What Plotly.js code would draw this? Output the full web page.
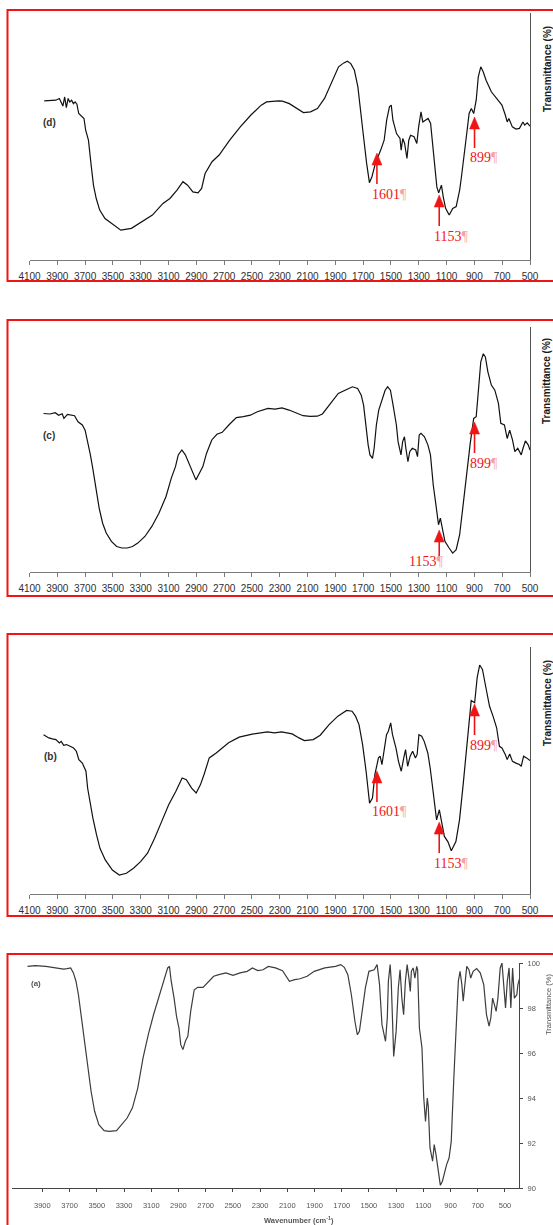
<!DOCTYPE html>
<html>
<head>
<meta charset="utf-8">
<script src="https://cdn.plot.ly/plotly-3.0.1.min.js"></script>
<style>
  html, body { margin: 0; padding: 0; background: #fff; }
  #chart { width: 553px; height: 1225px; }
</style>
</head>
<body>
<svg width="0" height="0" style="position:absolute">
  <filter id="soft"><feGaussianBlur stdDeviation="0.5"/></filter>
</svg>
<div id="chart"></div>
<script>
// ---- FTIR spectra: wavenumber (cm-1) and transmittance ----
// (d)
const WN_D = [3994,3911,3885,3860,3847,3835,3822,3810,3797,3784,3772,3759,3746,3726,3708,3696,3676,3658,3640,3620,3595,3557,3494,3443,3367,3292,3216,3140,3090,3039,2996,2963,2925,2888,2862,2837,2787,2736,2660,2584,2509,2433,2395,2307,2281,2231,2180,2130,2079,2029,1978,1928,1877,1839,1814,1789,1763,1738,1726,1700,1675,1655,1637,1612,1574,1549,1531,1511,1498,1486,1460,1435,1427,1415,1402,1385,1372,1359,1334,1314,1301,1284,1271,1251,1233,1215,1195,1170,1157,1145,1137,1124,1107,1081,1056,1031,1006,993,973,955,938,922,905,887,872,854,836,816,778,740,702,677,664,652,627,601,576,551,538,520,500];
const T_D = [64.4,64.7,65.4,62.3,66.0,61.7,65.4,64.0,64.7,63.3,64.0,63.1,59.3,58.2,57.3,52.6,48.5,39.1,30.3,24.9,20.2,16.8,14.2,12.1,12.8,15.5,18.2,22.9,24.9,28.3,31.7,30.3,27.6,27.2,29.0,35.0,39.8,42.5,48.5,53.9,58.6,62.7,64.0,64.4,64.3,63.3,61.3,59.7,60.0,61.3,65.4,72.1,78.2,79.8,80.5,79.5,76.8,70.1,64.7,51.2,39.1,31.3,33.7,39.1,44.5,48.5,56.6,62.0,62.7,56.6,51.2,49.2,44.5,49.2,47.2,41.1,48.5,50.5,49.9,47.2,53.9,60.0,55.9,56.6,57.3,55.3,44.5,29.6,27.2,29.6,30.3,25.6,20.9,18.2,20.9,21.6,28.3,33.7,41.8,51.2,59.3,61.3,59.3,64.7,74.1,78.2,76.1,72.8,68.1,65.4,62.7,58.6,55.9,57.3,53.9,53.0,53.3,55.9,54.6,55.5,54.2];
const PEAKS_D = [1601, 1153, 899];

// (c)
const WN_C = [3999,3953,3915,3890,3865,3852,3827,3801,3776,3751,3720,3700,3680,3662,3645,3624,3599,3574,3548,3511,3473,3435,3397,3359,3321,3270,3220,3169,3118,3080,3050,3030,3004,2979,2941,2903,2878,2853,2827,2789,2752,2714,2663,2612,2562,2511,2461,2385,2334,2284,2233,2182,2132,2081,2030,1993,1942,1879,1815,1777,1740,1714,1697,1681,1664,1651,1633,1621,1605,1588,1562,1542,1524,1504,1487,1461,1449,1428,1416,1403,1393,1378,1365,1347,1322,1309,1297,1284,1259,1234,1216,1196,1175,1158,1145,1132,1112,1082,1056,1031,1006,981,955,930,905,887,872,854,836,821,803,778,753,727,710,684,664,646,626,609,588,563,550,533,512,500];
const T_C = [64.7,64.5,65.0,64.0,64.6,62.7,64.3,64.0,63.8,61.3,60.0,57.9,53.2,47.8,42.3,34.2,26.1,19.9,15.9,12.5,10.4,9.8,9.8,10.4,11.8,14.5,18.6,24.0,30.8,38.3,43.0,47.8,49.8,47.8,42.3,37.6,40.3,43.0,48.4,53.9,56.2,57.0,60.2,63.0,63.4,64.0,65.4,66.8,66.5,67.0,66.1,65.1,63.8,63.5,63.6,64.5,68.1,72.9,74.6,75.6,74.9,72.2,68.1,60.0,51.8,47.8,46.4,50.5,60.0,66.1,70.8,74.2,75.6,74.2,68.8,60.0,53.2,47.8,53.2,55.2,50.5,45.0,49.1,50.5,49.8,47.1,55.9,56.6,55.2,51.8,47.8,35.5,26.7,19.3,22.0,17.9,12.5,9.8,7.7,9.1,15.2,27.4,41.0,52.5,62.7,63.4,73.5,85.8,89.1,87.8,81.7,76.3,74.2,68.8,60.7,60.0,54.5,57.9,53.9,49.1,50.5,47.8,50.5,53.5,51.8,49.8];
const PEAKS_C = [1153, 899];

// (b)
const WN_B = [3999,3961,3935,3910,3885,3872,3854,3834,3808,3783,3763,3745,3720,3694,3682,3661,3644,3618,3593,3555,3504,3454,3403,3352,3301,3251,3200,3149,3099,3048,3002,2972,2934,2901,2871,2845,2807,2757,2718,2668,2592,2490,2389,2338,2287,2211,2161,2123,2059,2009,1945,1882,1819,1780,1755,1730,1717,1704,1679,1654,1633,1616,1590,1578,1565,1552,1532,1519,1502,1489,1464,1446,1426,1408,1395,1380,1362,1344,1324,1312,1299,1279,1261,1235,1218,1197,1172,1152,1134,1116,1091,1066,1033,1007,981,956,923,898,880,862,842,817,791,766,740,720,702,677,664,646,626,601,576,563,546,525,500];
const T_B = [64.5,63.2,62.8,62.5,61.2,61.8,60.2,60.5,59.8,59.1,57.8,54.4,53.0,49.7,42.9,36.1,30.7,24.0,18.5,13.8,9.7,7.7,8.4,10.4,13.1,16.5,22.6,29.4,36.1,41.5,47.0,46.3,42.9,40.9,44.2,48.3,55.1,57.1,58.9,61.2,63.5,64.8,65.6,65.2,65.6,64.8,63.2,62.1,62.5,64.3,68.6,72.0,74.3,74.0,72.0,68.6,64.5,60.5,49.7,36.8,38.8,48.3,55.1,55.8,52.4,57.1,64.5,65.9,69.3,64.5,59.1,53.7,49.7,55.1,58.5,51.7,55.8,57.8,55.1,56.4,64.5,63.9,61.8,57.1,51.0,41.5,30.0,34.1,29.4,23.3,21.2,17.5,21.2,30.0,44.2,59.1,78.3,77.4,87.6,92.7,90.9,83.5,76.0,72.0,67.3,59.8,59.1,56.4,54.4,56.7,53.7,53.0,52.4,51.7,55.8,55.1,54.0];
const PEAKS_B = [1601, 1153, 899];

// (a)
const WN_A = [4009,3952,3874,3822,3770,3744,3718,3692,3672,3653,3635,3615,3589,3563,3542,3516,3485,3446,3407,3355,3316,3277,3238,3199,3160,3122,3083,3044,3005,2979,2966,2953,2932,2914,2896,2883,2867,2849,2831,2810,2784,2758,2719,2680,2641,2603,2551,2499,2447,2395,2356,2317,2278,2239,2187,2135,2109,2084,2045,2006,1954,1902,1824,1746,1707,1681,1655,1629,1603,1585,1570,1552,1526,1500,1461,1440,1422,1404,1388,1378,1365,1357,1344,1336,1318,1300,1284,1271,1258,1245,1232,1219,1206,1196,1188,1175,1162,1149,1142,1129,1110,1097,1084,1071,1064,1051,1032,1020,1007,988,975,960,942,929,911,895,877,859,843,830,817,807,791,781,765,752,734,708,682,656,636,617,604,591,578,565,552,535,522,509,496,483,470,457,444,431,413,405,392];
const T_A = [99.85,99.88,99.85,99.81,99.78,99.73,99.75,99.78,99.56,99.19,98.59,97.70,96.52,95.19,94.30,93.41,92.81,92.55,92.52,92.55,92.81,93.11,93.56,94.44,95.78,96.81,97.70,98.44,99.19,99.78,99.85,99.19,98.44,97.63,97.11,96.37,96.15,96.52,96.74,97.85,98.81,98.92,98.92,99.19,99.41,99.48,99.56,99.45,99.56,99.63,99.78,99.66,99.70,99.85,99.78,99.66,99.41,99.19,99.26,99.30,99.41,99.63,99.78,99.85,99.93,99.81,99.48,98.59,97.41,96.81,96.96,97.85,98.89,99.63,99.70,99.93,99.04,97.26,96.81,96.52,97.56,99.19,99.93,99.19,95.85,96.96,98.89,99.70,98.44,97.70,99.19,99.93,99.33,98.74,99.63,99.78,99.33,99.85,99.70,97.11,96.22,94.00,92.96,94.00,93.63,91.78,91.19,91.93,91.48,90.59,90.12,90.30,90.74,91.04,91.33,92.07,94.74,97.26,99.19,99.63,99.04,98.30,99.33,99.85,99.70,99.33,99.63,99.75,99.56,99.04,97.70,97.19,97.56,98.44,98.15,97.85,98.44,99.78,100.0,99.04,98.00,99.19,99.78,98.00,99.78,98.44,98.59,99.04,99.33];

// Axis ticks
const X_TICKS = [4100,3900,3700,3500,3300,3100,2900,2700,2500,2300,2100,1900,1700,1500,1300,1100,900,700,500];
const X_TICKS_A = [3900,3700,3500,3300,3100,2900,2700,2500,2300,2100,1900,1700,1500,1300,1100,900,700,500];
const Y_TICKS_A = [90,92,94,96,98,100];
const PANEL_LABELS = ['(d)', '(c)', '(b)', '(a)'];
const Y_TITLE = 'Transmittance (%)';
const X_TITLE = 'Wavenumber (cm<sup>-1</sup>)';

// ---- page geometry (pixels on a 553 x 1225 canvas) ----
const W = 553, H = 1225;
const px = v => v / W;
const py = v => 1 - v / H;

const SANS = 'Liberation Sans, Arial, sans-serif';
const SERIF = 'Liberation Serif, Times New Roman, serif';
const RED = '#f01515';
const PILCROW = '#f4a2a2';

// Upper three panels share one style
const panels = [
  { wn: WN_D, t: T_D, peaks: PEAKS_D, label: PANEL_LABELS[0], top: 13, base: 260, box: [10, 281], labelAt: [49, 123], titleAt: 69,
    arrows: { 1601: { tip: 43.3, side: 'left' }, 1153: { tip: 26.3, side: 'left' }, 899: { tip: 57.9, side: 'left' } } },
  { wn: WN_C, t: T_C, peaks: PEAKS_C, label: PANEL_LABELS[1], top: 327, base: 572, box: [320, 596], labelAt: [49, 435], titleAt: 381,
    arrows: { 1153: { tip: 17.1, side: 'right', drop: 31 }, 899: { tip: 61.2, side: 'left' } } },
  { wn: WN_B, t: T_B, peaks: PEAKS_B, label: PANEL_LABELS[2], top: 647, base: 894, box: [634, 916], labelAt: [50, 756], titleAt: 703,
    arrows: { 1601: { tip: 49.8, side: 'left' }, 1153: { tip: 29.1, side: 'left' }, 899: { tip: 76.9, side: 'left' } } }
];

// arrow geometry in screen pixels, measured up from the arrow tip
const ARROW = { len: 31, headLen: 12, headHalf: 5, width: 1.6 };

const traces = [];
const layout = {
  width: W, height: H,
  margin: { l: 0, r: 0, t: 0, b: 0 },
  paper_bgcolor: '#ffffff',
  plot_bgcolor: 'rgba(0,0,0,0)',
  showlegend: false,
  shapes: [],
  annotations: []
};

const X_DOMAIN = [px(29.5), px(530)];

panels.forEach((p, i) => {
  const n = i + 1;
  const xa = 'x' + (n === 1 ? '' : n), ya = 'y' + (n === 1 ? '' : n);
  const xk = 'xaxis' + (n === 1 ? '' : n), yk = 'yaxis' + (n === 1 ? '' : n);

  traces.push({
    x: p.wn, y: p.t, xaxis: xa, yaxis: ya,
    type: 'scatter', mode: 'lines',
    line: { color: '#111111', width: 1.2 },
    hoverinfo: 'skip'
  });

  layout[xk] = {
    domain: X_DOMAIN, range: [4100, 500], anchor: ya,
    tickmode: 'array', tickvals: X_TICKS,
    ticks: 'outside', ticklen: 4, tickwidth: 1, tickcolor: '#7a7a7a',
    ticklabelstandoff: 3,
    showline: true, linecolor: '#7a7a7a', linewidth: 1,
    tickfont: { family: SANS, size: 10, color: '#2e2e2e' },
    showgrid: false, zeroline: false, fixedrange: true
  };
  layout[yk] = {
    domain: [py(p.base), py(p.top)], range: [0, 100], anchor: xa,
    side: 'right', showline: true, linecolor: '#555555', linewidth: 1,
    ticks: '', showticklabels: false, showgrid: false, zeroline: false, fixedrange: true
  };

  // frame around the panel
  layout.shapes.push({
    type: 'rect', xref: 'paper', yref: 'paper',
    x0: px(7.5), x1: px(W + 10), y0: py(p.box[1]), y1: py(p.box[0]),
    line: { color: RED, width: 2 }, fillcolor: 'rgba(0,0,0,0)'
  });

  // panel letter
  layout.annotations.push({
    xref: 'paper', yref: 'paper', x: px(p.labelAt[0]), y: py(p.labelAt[1]),
    xanchor: 'center', yanchor: 'middle',
    text: '<b>' + p.label + '</b>', showarrow: false,
    font: { family: SANS, size: 10, color: '#333333' }
  });

  // vertical axis name at the right edge
  layout.annotations.push({
    xref: 'paper', yref: 'paper', x: px(547), y: py(p.titleAt),
    text: '<b>' + Y_TITLE + '</b>', textangle: -90, showarrow: false,
    xanchor: 'center', yanchor: 'middle',
    font: { family: SANS, size: 10, color: '#1a1a1a' }
  });

  // band markers: red arrow pointing up at the band, value below it
  p.peaks.forEach(pk => {
    const a = p.arrows[pk];
    layout.shapes.push({
      type: 'line', xref: xa, yref: ya,
      xsizemode: 'pixel', ysizemode: 'pixel', xanchor: pk, yanchor: a.tip,
      x0: 0, x1: 0, y0: -ARROW.headLen + 1, y1: -ARROW.len,
      line: { color: RED, width: ARROW.width }
    });
    layout.shapes.push({
      type: 'path', xref: xa, yref: ya,
      xsizemode: 'pixel', ysizemode: 'pixel', xanchor: pk, yanchor: a.tip,
      path: 'M0,0 L' + ARROW.headHalf + ',' + (-ARROW.headLen) +
            ' L' + (-ARROW.headHalf) + ',' + (-ARROW.headLen) + ' Z',
      fillcolor: RED, line: { color: RED, width: 0.5 }
    });
    const left = a.side === 'left';
    layout.annotations.push({
      xref: xa, yref: ya, x: pk, y: a.tip,
      xanchor: left ? 'left' : 'right', yanchor: 'middle',
      xshift: left ? -7 : 6, yshift: -(a.drop || 41),
      text: pk + '<span style="color:' + PILCROW + '">¶</span>',
      showarrow: false,
      font: { family: SERIF, size: 14, color: RED }
    });
  });
});

// ---- panel (a): reference spectrum with its own scale ----
traces.push({
  x: WN_A, y: T_A, xaxis: 'x4', yaxis: 'y4',
  type: 'scatter', mode: 'lines',
  line: { color: '#3c3c3c', width: 1.2 },
  hoverinfo: 'skip'
});
layout.xaxis4 = {
  domain: [px(12.3), px(519)], range: [4121, 397], anchor: 'y4',
  tickmode: 'array', tickvals: X_TICKS_A,
  ticks: 'outside', ticklen: 3, tickcolor: '#444444',
  ticklabelstandoff: 7,
  showline: true, linecolor: '#444444', linewidth: 1,
  tickfont: { family: SANS, size: 7.5, color: '#555555' },
  showgrid: false, zeroline: false, fixedrange: true
};
layout.yaxis4 = {
  domain: [py(1188), py(963)], range: [90, 100], anchor: 'x4',
  side: 'right', showline: true, linecolor: '#444444', linewidth: 1,
  tickmode: 'array', tickvals: Y_TICKS_A,
  ticks: 'outside', ticklen: 3, tickcolor: '#444444',
  ticklabelstandoff: 3,
  tickfont: { family: SANS, size: 7.5, color: '#555555' },
  showgrid: false, zeroline: false, fixedrange: true
};
layout.shapes.push({
  type: 'rect', xref: 'paper', yref: 'paper',
  x0: px(7.5), x1: px(W + 10), y0: py(H + 10), y1: py(954),
  line: { color: RED, width: 2 }, fillcolor: 'rgba(0,0,0,0)'
});
const A_NOTES_START = layout.annotations.length;
layout.annotations.push({
  xref: 'paper', yref: 'paper', x: px(36), y: py(983),
  xanchor: 'center', yanchor: 'middle',
  text: '<b>' + PANEL_LABELS[3] + '</b>', showarrow: false,
  font: { family: SANS, size: 8, color: '#555555' }
});
layout.annotations.push({
  xref: 'paper', yref: 'paper', x: px(299), y: py(1220),
  xanchor: 'center', yanchor: 'middle',
  text: '<b>' + X_TITLE + '</b>', showarrow: false,
  font: { family: SANS, size: 7.5, color: '#555555' }
});
layout.annotations.push({
  xref: 'paper', yref: 'paper', x: px(548), y: py(1005),
  text: Y_TITLE, textangle: -90, showarrow: false,
  xanchor: 'center', yanchor: 'middle',
  font: { family: SANS, size: 7.5, color: '#555555' }
});

Plotly.newPlot('chart', traces, layout, { staticPlot: true, displayModeBar: false }).then(gd => {
  // panel (a) comes from a scanned print, so it is drawn slightly soft
  const soft = 'url(#soft)';
  gd.querySelectorAll('.subplot.x4y4').forEach(g => g.setAttribute('filter', soft));
  gd.querySelectorAll('.infolayer .annotation').forEach(g => {
    const idx = +g.getAttribute('data-index');
    if (idx >= A_NOTES_START) g.setAttribute('filter', soft);
  });
});
</script>
</body>
</html>
